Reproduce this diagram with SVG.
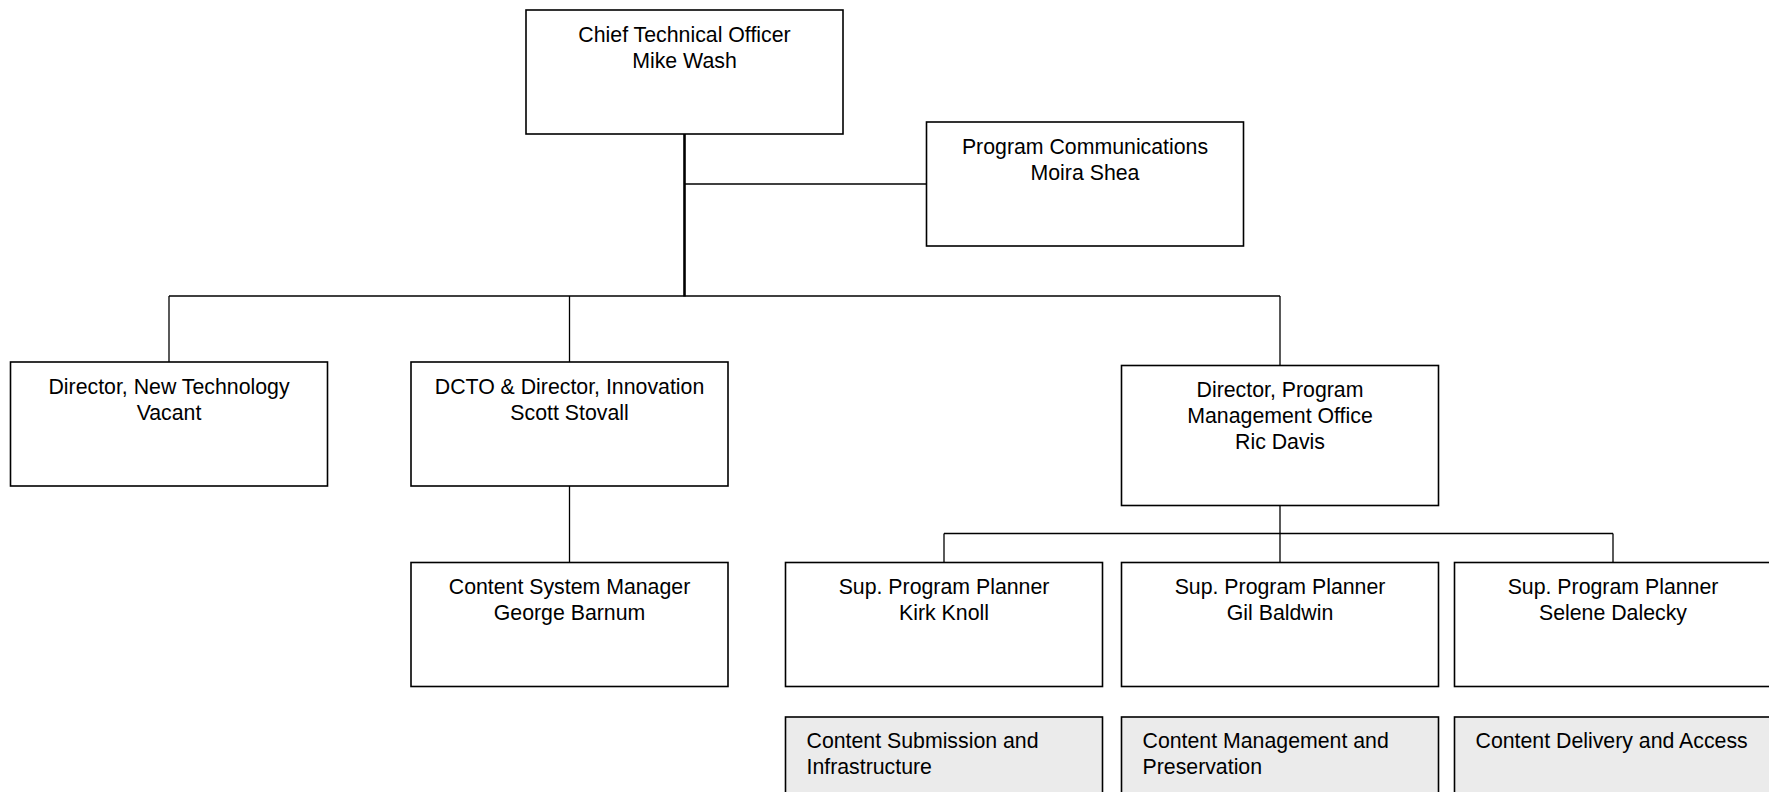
<svg xmlns="http://www.w3.org/2000/svg" width="1769" height="792" viewBox="0 0 1769 792">
<style>
.box{fill:#fff;stroke:#000;stroke-width:1.6}
.gbox{fill:#ebebeb;stroke:#000;stroke-width:1.6}
.t{font-family:"Liberation Sans",Arial,sans-serif;font-size:21.3px;fill:#000;text-anchor:middle}
.tl{font-family:"Liberation Sans",Arial,sans-serif;font-size:21.3px;fill:#000;text-anchor:start}
.c{stroke:#000;stroke-width:1.3;fill:none}
.ct{stroke:#000;stroke-width:2.6;fill:none}
</style>
<rect width="1769" height="792" fill="#fff"/>
<g id="connectors">
<line class="ct" x1="684.5" y1="134" x2="684.5" y2="296.5"/>
<line class="c" x1="684.5" y1="184" x2="926.5" y2="184"/>
<line class="c" x1="169" y1="296" x2="1280" y2="296"/>
<line class="c" x1="169" y1="296" x2="169" y2="362"/>
<line class="c" x1="569.5" y1="296" x2="569.5" y2="362"/>
<line class="c" x1="1280" y1="296" x2="1280" y2="365.5"/>
<line class="c" x1="569.5" y1="486" x2="569.5" y2="562.5"/>
<line class="c" x1="1280" y1="505.5" x2="1280" y2="562.5"/>
<line class="c" x1="944" y1="533.5" x2="1613" y2="533.5"/>
<line class="c" x1="944" y1="533.5" x2="944" y2="562.5"/>
<line class="c" x1="1613" y1="533.5" x2="1613" y2="562.5"/>
</g>
<g id="cto">
<rect class="box" x="526" y="10" width="317" height="124"/>
<text class="t" x="684.5" y="41.5">Chief Technical Officer</text>
<text class="t" x="684.5" y="67.5">Mike Wash</text>
</g>
<g id="comms">
<rect class="box" x="926.5" y="122" width="317" height="124"/>
<text class="t" x="1085" y="153.5">Program Communications</text>
<text class="t" x="1085" y="179.5">Moira Shea</text>
</g>
<g id="dnt">
<rect class="box" x="10.5" y="362" width="317" height="124"/>
<text class="t" x="169" y="393.5">Director, New Technology</text>
<text class="t" x="169" y="419.5">Vacant</text>
</g>
<g id="dcto">
<rect class="box" x="411" y="362" width="317" height="124"/>
<text class="t" x="569.5" y="393.5">DCTO &amp; Director, Innovation</text>
<text class="t" x="569.5" y="419.5">Scott Stovall</text>
</g>
<g id="pmo">
<rect class="box" x="1121.5" y="365.5" width="317" height="140"/>
<text class="t" x="1280" y="397">Director, Program</text>
<text class="t" x="1280" y="423">Management Office</text>
<text class="t" x="1280" y="449">Ric Davis</text>
</g>
<g id="csm">
<rect class="box" x="411" y="562.5" width="317" height="124"/>
<text class="t" x="569.5" y="594">Content System Manager</text>
<text class="t" x="569.5" y="620">George Barnum</text>
</g>
<g id="sup1">
<rect class="box" x="785.5" y="562.5" width="317" height="124"/>
<text class="t" x="944" y="594">Sup. Program Planner</text>
<text class="t" x="944" y="620">Kirk Knoll</text>
</g>
<g id="sup2">
<rect class="box" x="1121.5" y="562.5" width="317" height="124"/>
<text class="t" x="1280" y="594">Sup. Program Planner</text>
<text class="t" x="1280" y="620">Gil Baldwin</text>
</g>
<g id="sup3">
<rect class="box" x="1454.5" y="562.5" width="317" height="124"/>
<text class="t" x="1613" y="594">Sup. Program Planner</text>
<text class="t" x="1613" y="620">Selene Dalecky</text>
</g>
<g id="area1">
<rect class="gbox" x="785.5" y="717" width="317" height="124"/>
<text class="tl" x="806.5" y="747.5">Content Submission and</text>
<text class="tl" x="806.5" y="773.5">Infrastructure</text>
</g>
<g id="area2">
<rect class="gbox" x="1121.5" y="717" width="317" height="124"/>
<text class="tl" x="1142.5" y="747.5">Content Management and</text>
<text class="tl" x="1142.5" y="773.5">Preservation</text>
</g>
<g id="area3">
<rect class="gbox" x="1454.5" y="717" width="317" height="124"/>
<text class="tl" x="1475.5" y="747.5">Content Delivery and Access</text>
</g>
</svg>
